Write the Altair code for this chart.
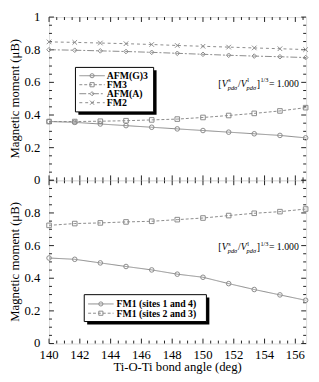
import altair as alt
import pandas as pd

# ---------------- data ----------------
angles = [140.0, 141.67, 143.33, 145.0, 146.67, 148.33, 150.0, 151.67, 153.33, 155.0, 156.67]

top_names = ["AFM(G)3", "FM3", "AFM(A)", "FM2"]
afm_g3 = [0.360, 0.355, 0.345, 0.335, 0.325, 0.315, 0.305, 0.295, 0.285, 0.275, 0.260]
fm3 = [0.360, 0.360, 0.362, 0.365, 0.370, 0.375, 0.385, 0.397, 0.410, 0.425, 0.445]
afm_a = [0.800, 0.797, 0.793, 0.789, 0.784, 0.778, 0.772, 0.766, 0.761, 0.757, 0.752]
fm2 = [0.848, 0.845, 0.841, 0.837, 0.832, 0.826, 0.821, 0.816, 0.811, 0.806, 0.801]
top_series = [afm_g3, fm3, afm_a, fm2]

bottom_names = ["FM1  (sites 1 and 4)", "FM1  (sites 2 and 3)"]
fm1_14 = [0.524, 0.516, 0.494, 0.472, 0.451, 0.425, 0.406, 0.367, 0.331, 0.298, 0.265]
fm1_23 = [0.724, 0.735, 0.739, 0.745, 0.749, 0.759, 0.769, 0.784, 0.798, 0.808, 0.824]
bottom_series = [fm1_14, fm1_23]

x_ticks = [140, 142, 144, 146, 148, 150, 152, 154, 156]
x_tick_labels = ["140", "142", "144", "146", "148", "150", "152", "154", "156"]
x_minor = [140 + 0.5 * i for i in range(34) if i % 4 != 0]
y_major = [0.0, 0.2, 0.4, 0.6, 0.8, 1.0]
y_minor = [round(0.05 * i, 2) for i in range(21) if i % 4 != 0]
y_labels_top = (["0", "0.2", "0.4", "0.6", "0.8", "1"], [0.0, 0.2, 0.4, 0.6, 0.8, 1.0])
y_labels_bottom = (["0", "0.2", "0.4", "0.6", "0.8"], [0.0, 0.2, 0.4, 0.6, 0.8])
y_title = "Magnetic moment (μB)"
x_title = "Ti-O-Ti bond angle (deg)"

# annotation pieces: text, dx, dy, size, italic
ann_pieces = [
    ("[", 0, 0, 10, False),
    ("V", 3.4, 0, 10, True),
    ("s", 10.0, -5, 6.5, False),
    ("pdσ", 9.6, 3, 6.5, True),
    ("/", 20.0, 0, 10, False),
    ("V", 22.8, 0, 10, True),
    ("l", 29.5, -5, 6.5, False),
    ("pdσ", 28.9, 3, 6.5, True),
    ("]", 39.3, 0, 10, False),
    ("1/3", 43.0, -5, 6.5, False),
    ("= 1.000", 51.7, 0, 10, False),
]
ann_x, ann_y = 151.0, 0.57

# ---------------- style ----------------
W, H = 263, 167
XDOM = [140, 156.7]
GRAY = "#8a8a8a"
FONT = "Liberation Serif"
dashes = {"AFM(G)3": [1, 0], "FM3": [3, 2], "AFM(A)": [7, 2, 2, 2], "FM2": [3, 3],
          "FM1  (sites 1 and 4)": [1, 0], "FM1  (sites 2 and 3)": [3, 2]}
XPATH = "M-1,-1L1,1M-1,1L1,-1"
shapes = {"AFM(G)3": "circle", "FM3": "square", "AFM(A)": "diamond", "FM2": XPATH,
          "FM1  (sites 1 and 4)": "circle", "FM1  (sites 2 and 3)": "square"}

xscale = alt.Scale(domain=XDOM, nice=False, zero=False)
yscale = alt.Scale(domain=[0, 1], nice=False, zero=False)


def X(f):
    return alt.X(f, scale=xscale, axis=None)


def Y(f):
    return alt.Y(f, scale=yscale, axis=None)


def series_layers(names, series):
    layers = []
    for name, vals in zip(names, series):
        df = pd.DataFrame({"angle": angles, "m": vals, "series": name})
        base = alt.Chart(df)
        layers.append(base.mark_line(color=GRAY, strokeWidth=1, strokeDash=dashes[name]).encode(
            x=X("angle:Q"), y=Y("m:Q")))
        layers.append(base.mark_point(color=GRAY, filled=False, size=22, strokeWidth=1,
                                      shape=shapes[name], opacity=1).encode(
            x=X("angle:Q"), y=Y("m:Q")))
    return layers


def tick_layers():
    layers = []
    for vals, ln in ((y_major, 5), (y_minor, 3)):
        df = pd.DataFrame({"m": vals})
        layers.append(alt.Chart(df).mark_rule(color="#222", strokeWidth=1).encode(
            y=Y("m:Q"), x=alt.value(0), x2=alt.value(ln)))
        layers.append(alt.Chart(df).mark_rule(color="#222", strokeWidth=1).encode(
            y=Y("m:Q"), x=alt.value(W), x2=alt.value(W - ln)))
    for vals, ln in ((x_ticks, 5), (x_minor, 3)):
        df = pd.DataFrame({"angle": vals})
        layers.append(alt.Chart(df).mark_rule(color="#222", strokeWidth=1).encode(
            x=X("angle:Q"), y=alt.value(0), y2=alt.value(ln)))
        layers.append(alt.Chart(df).mark_rule(color="#222", strokeWidth=1).encode(
            x=X("angle:Q"), y=alt.value(H), y2=alt.value(H - ln)))
    return layers


def axis_text_layers(ylabs, show_x):
    labels, vals = ylabs
    df = pd.DataFrame({"m": vals, "t": labels})
    layers = [
        alt.Chart(df).mark_text(align="right", baseline="middle", font=FONT, fontSize=13,
                                color="black").encode(y=Y("m:Q"), x=alt.value(-9), text="t:N"),
        alt.Chart(pd.DataFrame({"t": [y_title]})).mark_text(
            align="center", baseline="middle", angle=270, font=FONT, fontSize=13,
            color="black").encode(x=alt.value(-35), y=alt.value(H / 2), text="t:N"),
    ]
    if show_x:
        dfx = pd.DataFrame({"angle": x_ticks, "t": x_tick_labels})
        layers.append(alt.Chart(dfx).mark_text(align="center", baseline="top", font=FONT,
                                               fontSize=13, color="black").encode(
            x=X("angle:Q"), y=alt.value(H + 6), text="t:N"))
        layers.append(alt.Chart(pd.DataFrame({"t": [x_title]})).mark_text(
            align="center", baseline="top", font=FONT, fontSize=13, color="black").encode(
            x=alt.value(W / 2), y=alt.value(H + 18.5), text="t:N"))
    return layers


def annotation_layers(x0, y0):
    layers = []
    for txt, dx, dy, size, ital in ann_pieces:
        df = pd.DataFrame({"angle": [x0], "m": [y0], "t": [txt]})
        layers.append(alt.Chart(df).mark_text(
            align="left", baseline="alphabetic", dx=dx, dy=dy, fontSize=size,
            font=FONT, fontStyle="italic" if ital else "normal", color="black").encode(
            x=X("angle:Q"), y=Y("m:Q"), text="t:N"))
    return layers


def legend_layers(names, box, rows, line_x, sym_x, text_x, fsize):
    bx0, by0, bx1, by1 = box
    dummy = pd.DataFrame({"a": [0]})
    layers = [
        alt.Chart(dummy).mark_rect(color="black").encode(
            x=alt.value(bx0 + 3), x2=alt.value(bx1 + 3), y=alt.value(by0 + 3), y2=alt.value(by1 + 3)),
        alt.Chart(dummy).mark_rect(fill="white", stroke="black", strokeWidth=1).encode(
            x=alt.value(bx0), x2=alt.value(bx1), y=alt.value(by0), y2=alt.value(by1)),
    ]
    for name, ry in zip(names, rows):
        df = pd.DataFrame({"label": [name]})
        layers.append(alt.Chart(df).mark_rule(color=GRAY, strokeWidth=1, strokeDash=dashes[name]).encode(
            x=alt.value(line_x[0]), x2=alt.value(line_x[1]), y=alt.value(ry)))
        layers.append(alt.Chart(df).mark_point(color=GRAY, filled=False, size=18, strokeWidth=1,
                                               shape=shapes[name], opacity=1).encode(
            x=alt.value(sym_x), y=alt.value(ry)))
        layers.append(alt.Chart(df).mark_text(align="left", baseline="middle", font=FONT,
                                              fontWeight="bold", fontSize=fsize, color="black").encode(
            x=alt.value(text_x), y=alt.value(ry + 0.5), text="label:N"))
    return layers


top = alt.layer(
    *tick_layers(),
    *axis_text_layers(y_labels_top, False),
    *series_layers(top_names, top_series),
    *annotation_layers(ann_x, ann_y),
    *legend_layers(top_names, (27, 51.5, 107, 97), [60, 69.2, 78.4, 87.6], (31, 57), 44, 59, 10),
).properties(width=W, height=H)

bottom = alt.layer(
    *tick_layers(),
    *axis_text_layers(y_labels_bottom, True),
    *series_layers(bottom_names, bottom_series),
    *annotation_layers(ann_x, ann_y),
    *legend_layers(bottom_names, (36, 117, 161, 144.5), [126.5, 136], (40, 66), 53, 69, 10),
).properties(width=W, height=H)

chart = alt.vconcat(top, bottom, spacing=0, bounds="flush").configure_view(
    stroke="black", strokeWidth=1
).configure(padding={"left": 0, "top": -2, "right": 0, "bottom": 0}, background="white")

chart.save("out.html", embed_options={"renderer": "svg", "actions": False})
